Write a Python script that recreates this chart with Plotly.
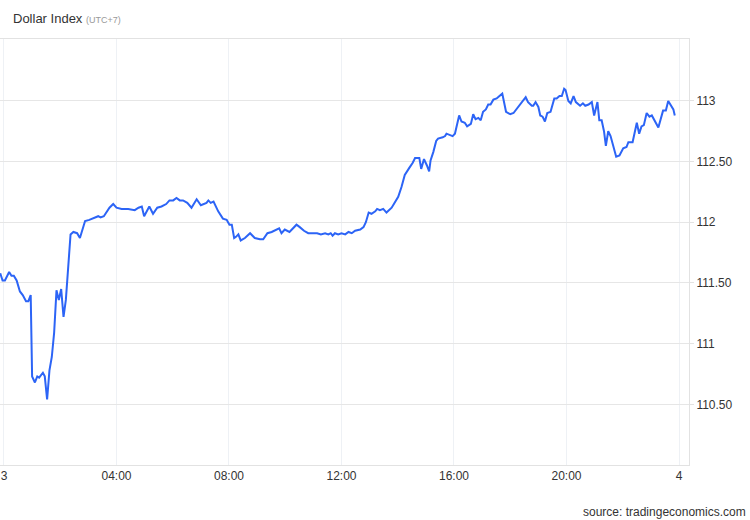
import plotly.graph_objects as go
import pandas as pd

times = [
    "2022-10-02 23:52", "2022-10-02 23:57", "00:02", "00:11", "00:16", "00:21", "00:27", "00:34", "00:40", "00:47",
    "00:52", "00:57", "01:00", "01:06", "01:11", "01:15", "01:23", "01:27", "01:32", "01:37",
    "01:42", "01:47", "01:52", "01:57", "02:02", "02:07", "02:12", "02:18", "02:22", "02:28",
    "02:36", "02:42", "02:53", "03:02", "03:14", "03:21", "03:26", "03:33", "03:45", "03:53",
    "04:00", "04:11", "04:25", "04:39", "04:47", "04:54", "04:59", "05:10", "05:18", "05:27",
    "05:36", "05:46", "05:53", "06:01", "06:08", "06:15", "06:22", "06:31", "06:40", "06:51",
    "07:00", "07:07", "07:12", "07:16", "07:21", "07:27", "07:37", "07:47", "07:55", "08:01",
    "08:06", "08:11", "08:15", "08:20", "08:25", "08:34", "08:45", "08:55", "09:06", "09:13",
    "09:22", "09:31", "09:40", "09:47", "09:52", "09:59", "10:09", "10:14", "10:24", "10:31",
    "10:40", "10:49", "11:00", "11:08", "11:16", "11:25", "11:32", "11:37", "11:41", "11:46",
    "11:53", "12:00", "12:08", "12:15", "12:22", "12:29", "12:40", "12:47", "12:52", "12:58",
    "13:04", "13:12", "13:16", "13:22", "13:29", "13:36", "13:47", "13:54", "14:01", "14:08",
    "14:15", "14:25", "14:32", "14:37", "14:46", "14:50", "14:56", "15:02", "15:07", "15:10",
    "15:16", "15:22", "15:26", "15:36", "15:41", "15:44", "15:51", "15:57", "16:02", "16:11",
    "16:16", "16:23", "16:28", "16:36", "16:41", "16:46", "16:52", "16:57", "17:02", "17:08",
    "17:13", "17:18", "17:24", "17:31", "17:37", "17:43", "17:51", "18:00", "18:07", "18:17",
    "18:27", "18:33", "18:38", "18:46", "18:49", "18:54", "19:00", "19:04", "19:09", "19:14",
    "19:19", "19:26", "19:34", "19:39", "19:45", "19:50", "19:55", "19:58", "20:04", "20:09",
    "20:15", "20:20", "20:29", "20:35", "20:40", "20:47", "20:54", "20:59", "21:06", "21:10",
    "21:15", "21:20", "21:24", "21:29", "21:34", "21:46", "21:53", "22:01", "22:08", "22:12",
    "22:21", "22:30", "22:35", "22:40", "22:45", "22:51", "22:57", "23:02", "23:16", "23:26",
    "23:32", "23:37", "23:48", "23:51",
]

values = [
    111.58, 111.52, 111.52, 111.59, 111.56, 111.56, 111.52, 111.43, 111.40, 111.35,
    111.35, 111.40, 110.73, 110.68, 110.73, 110.72, 110.76, 110.73, 110.54, 110.78,
    110.89, 111.09, 111.44, 111.36, 111.45, 111.22, 111.36, 111.69, 111.90, 111.92,
    111.91, 111.87, 112.01, 112.02, 112.04, 112.05, 112.04, 112.05, 112.12, 112.15,
    112.12, 112.11, 112.11, 112.10, 112.12, 112.13, 112.05, 112.13, 112.07, 112.12,
    112.13, 112.15, 112.18, 112.18, 112.20, 112.18, 112.18, 112.16, 112.12, 112.19,
    112.14, 112.15, 112.16, 112.18, 112.16, 112.17, 112.09, 112.03, 112.02, 111.98,
    111.98, 111.87, 111.88, 111.90, 111.85, 111.87, 111.91, 111.87, 111.86, 111.86,
    111.91, 111.92, 111.94, 111.95, 111.91, 111.94, 111.92, 111.94, 111.98, 111.96,
    111.93, 111.91, 111.91, 111.91, 111.90, 111.91, 111.90, 111.91, 111.89, 111.91,
    111.90, 111.91, 111.90, 111.92, 111.91, 111.93, 111.94, 111.96, 112.00, 112.08,
    112.07, 112.09, 112.11, 112.10, 112.11, 112.08, 112.12, 112.16, 112.21, 112.29,
    112.39, 112.45, 112.49, 112.53, 112.53, 112.44, 112.52, 112.47, 112.42, 112.51,
    112.58, 112.67, 112.69, 112.70, 112.71, 112.73, 112.72, 112.71, 112.73, 112.88,
    112.83, 112.82, 112.79, 112.81, 112.89, 112.85, 112.86, 112.84, 112.91, 112.93,
    112.97, 112.97, 113.01, 113.02, 113.04, 113.06, 112.91, 112.89, 112.90, 112.95,
    112.99, 113.03, 112.99, 112.96, 112.96, 112.99, 112.95, 112.88, 112.87, 112.83,
    112.90, 112.91, 113.02, 113.02, 113.04, 113.04, 113.10, 113.09, 113.00, 112.98,
    113.04, 112.99, 112.96, 112.98, 112.96, 112.97, 112.99, 112.88, 112.99, 112.84,
    112.84, 112.75, 112.63, 112.75, 112.71, 112.54, 112.55, 112.61, 112.62, 112.66,
    112.66, 112.82, 112.73, 112.79, 112.80, 112.90, 112.87, 112.88, 112.78, 112.92,
    112.92, 113.00, 112.93, 112.88,
]

tick_vals = ["2022-10-03 00:00", "2022-10-03 04:00", "2022-10-03 08:00", "2022-10-03 12:00",
             "2022-10-03 16:00", "2022-10-03 20:00", "2022-10-04 00:00"]
tick_text = ["3", "04:00", "08:00", "12:00", "16:00", "20:00", "4"]

y_tick_vals = [110.5, 111, 111.5, 112, 112.5, 113]
y_tick_text = ["110.50", "111", "111.50", "112", "112.50", "113"]

x_dt = pd.to_datetime([t if len(t) > 5 else "2022-10-03 " + t for t in times])

fig = go.Figure()
fig.add_trace(go.Scatter(
    x=x_dt, y=values, mode="lines",
    line=dict(color="#2c64f6", width=2),
    hoverinfo="skip",
))

fig.update_layout(
    width=750, height=520,
    margin=dict(l=0, r=61, t=39, b=55),
    paper_bgcolor="white", plot_bgcolor="white",
    showlegend=False,
    font=dict(family="Liberation Sans, Arial, sans-serif", size=12, color="#333"),
    xaxis=dict(
        range=["2022-10-02 23:51:30", "2022-10-04 00:21:20"],
        tickvals=tick_vals, ticktext=tick_text,
        showgrid=True, gridcolor="#eef1f5", gridwidth=1,
        showline=True, linecolor="#e2e2e2", linewidth=1, mirror=True,
        ticks="", zeroline=False,
        tickfont=dict(size=12, color="#333"),
    ),
    yaxis=dict(
        side="right",
        range=[110.0, 113.51],
        tickvals=y_tick_vals, ticktext=y_tick_text,
        showgrid=True, gridcolor="#e6e6e6", gridwidth=1,
        showline=True, linecolor="#e2e2e2", linewidth=1,
        ticks="outside", ticklen=4, tickcolor="#e2e2e2",
        zeroline=False,
        tickfont=dict(size=12, color="#333"),
    ),
    annotations=[
        dict(
            text="Dollar Index <span style='font-size:9px;color:#999999'>(UTC+7)</span>",
            xref="paper", yref="paper", x=11 / 689, y=(465 - 19) / 426,
            xanchor="left", yanchor="middle", showarrow=False,
            font=dict(size=13, color="#333"),
        ),
        dict(
            text="source: tradingeconomics.com",
            xref="paper", yref="paper", x=748 / 689, y=(465 - 512) / 426,
            xanchor="right", yanchor="middle", showarrow=False,
            font=dict(size=12, color="#333"),
        ),
    ],
)

fig.write_html("out.html", config={"displayModeBar": False},
               post_script="document.body.style.margin='0';")
